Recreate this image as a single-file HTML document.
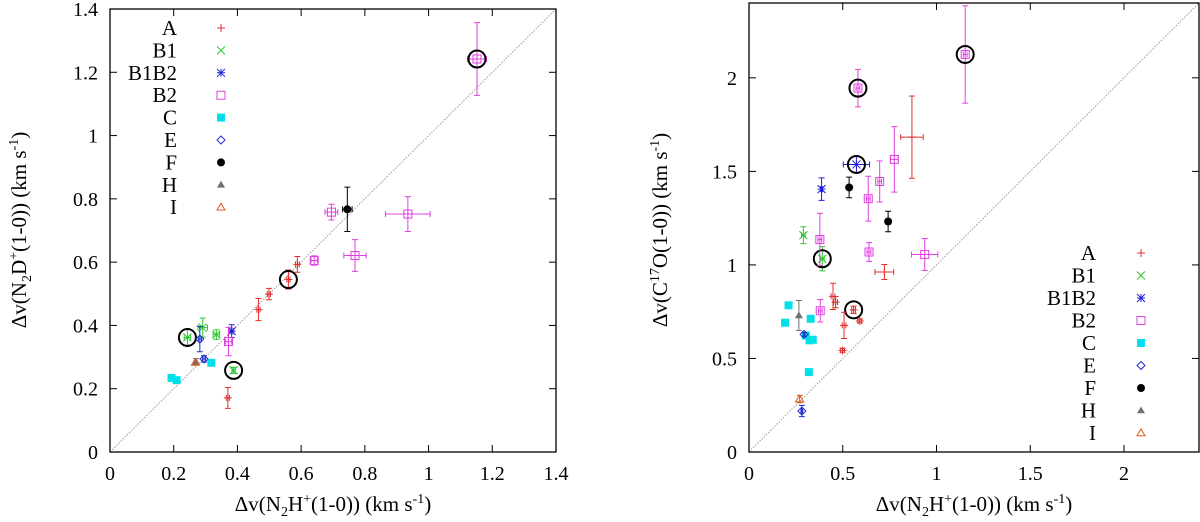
<!DOCTYPE html>
<html><head><meta charset="utf-8"><style>
body{margin:0;background:#fff;width:1200px;height:522px;overflow:hidden}
svg{display:block}
text{font-family:'Liberation Serif','DejaVu Serif',serif}
</style></head><body>
<svg id="chart" width="1200" height="522" viewBox="0 0 1200 522" font-family="'Liberation Serif','DejaVu Serif',serif"></svg>
<script>
// Left panel data: [x, y, xerr, yerr, circled]
const leftA=[[0.466,0.450,0.005,0.035,0],[0.499,0.499,0.005,0.018,0],[0.560,0.545,0.005,0.03,1],[0.588,0.593,0.006,0.025,0],[0.370,0.171,0.005,0.033,0]];
const leftB1=[[0.243,0.362,0.01,0.025,1],[0.291,0.393,0.015,0.03,0],[0.334,0.371,0.01,0.015,0],[0.388,0.258,0.005,0.01,1]];
const leftB1B2=[[0.382,0.382,0.005,0.02,0]];
const leftB2=[[1.152,1.242,0.03,0.115,1],[0.695,0.758,0.02,0.025,0],[0.935,0.752,0.07,0.055,0],[0.769,0.621,0.035,0.05,0],[0.641,0.605,0.01,0.015,0],[0.372,0.349,0.01,0.045,0]];
const leftC=[[0.193,0.234,0,0,0],[0.209,0.227,0,0,0],[0.318,0.282,0,0,0]];
const leftE=[[0.282,0.357,0.005,0.04,0],[0.295,0.294,0.005,0.01,0]];
const leftF=[[0.745,0.767,0.015,0.07,0]];
const leftH=[[0.270,0.285,0,0.01,0]];
const leftI=[[0.268,0.283,0,0,0]];
// Right panel data
const rightA=[[0.869,1.683,0.06,0.22,0],[0.722,0.962,0.05,0.04,0],[0.448,0.832,0.01,0.07,0],[0.462,0.801,0.01,0.03,0],[0.558,0.760,0.01,0.02,1],[0.507,0.677,0.01,0.07,0],[0.591,0.700,0.01,0.01,0],[0.499,0.543,0.01,0.01,0]];
const rightB1=[[0.290,1.159,0.01,0.045,0],[0.391,1.033,0.01,0.065,1]];
const rightB1B2=[[0.387,1.405,0.005,0.06,0],[0.573,1.537,0.07,0.045,1]];
const rightB2=[[1.153,2.125,0.01,0.26,1],[0.581,1.945,0.01,0.1,1],[0.775,1.564,0.02,0.175,0],[0.697,1.446,0.01,0.11,0],[0.636,1.354,0.01,0.12,0],[0.378,1.136,0.01,0.14,0],[0.640,1.069,0.01,0.05,0],[0.937,1.056,0.07,0.085,0],[0.380,0.755,0.01,0.06,0]];
const rightC=[[0.211,0.784,0,0,0],[0.192,0.691,0,0,0],[0.329,0.712,0,0,0],[0.303,0.623,0,0,0],[0.323,0.597,0,0,0],[0.340,0.600,0,0,0],[0.319,0.427,0,0,0]];
const rightE=[[0.294,0.629,0.005,0.01,0],[0.282,0.219,0.005,0.03,0]];
const rightF=[[0.534,1.414,0.005,0.055,0],[0.742,1.232,0.005,0.055,0]];
const rightH=[[0.266,0.730,0,0.08,0]];
const rightI=[[0.270,0.283,0,0.02,0]];
const legendNames=["A","B1","B1B2","B2","C","E","F","H","I"];
const leftTicksX=[0,0.2,0.4,0.6,0.8,1,1.2,1.4];
const leftTicksY=[0,0.2,0.4,0.6,0.8,1,1.2,1.4];
const rightTicksX=[0,0.5,1,1.5,2];
const rightTicksY=[0,0.5,1,1.5,2];

const FONT="'Liberation Serif','DejaVu Serif',serif";
const colors={A:"#e03030",B1:"#30c830",B1B2:"#2020e0",B2:"#e040e0",C:"#00e0e8",E:"#2030d0",F:"#000",H:"#707070",I:"#e05818"};
const svg=document.getElementById('chart');
const NS="http://www.w3.org/2000/svg";
function mk(tag,at,parent){const e=document.createElementNS(NS,tag);for(const k in at)e.setAttribute(k,at[k]);(parent||svg).appendChild(e);return e;}

function symbol(g,kind,cx,cy){
  const c=colors[kind],s=4;
  if(kind==="A"){mk('path',{d:`M${cx-s} ${cy}H${cx+s}M${cx} ${cy-s}V${cy+s}`,stroke:c,'stroke-width':1},g);}
  else if(kind==="B1"){mk('path',{d:`M${cx-s} ${cy-s}L${cx+s} ${cy+s}M${cx-s} ${cy+s}L${cx+s} ${cy-s}`,stroke:c,'stroke-width':1},g);}
  else if(kind==="B1B2"){mk('path',{d:`M${cx-s} ${cy-s}L${cx+s} ${cy+s}M${cx-s} ${cy+s}L${cx+s} ${cy-s}M${cx-s} ${cy}H${cx+s}M${cx} ${cy-s}V${cy+s}`,stroke:c,'stroke-width':1},g);}
  else if(kind==="B2"){mk('rect',{x:cx-s,y:cy-s,width:2*s,height:2*s,fill:'none',stroke:c,'stroke-width':1},g);}
  else if(kind==="C"){mk('rect',{x:cx-s,y:cy-s,width:2*s,height:2*s,fill:c},g);}
  else if(kind==="E"){mk('path',{d:`M${cx} ${cy-s}L${cx+s} ${cy}L${cx} ${cy+s}L${cx-s} ${cy}Z`,fill:'none',stroke:c,'stroke-width':1},g);}
  else if(kind==="F"){mk('circle',{cx:cx,cy:cy,r:s,fill:c},g);}
  else if(kind==="H"){mk('path',{d:`M${cx} ${cy-s}L${cx+s} ${cy+s*0.7}L${cx-s} ${cy+s*0.7}Z`,fill:c},g);}
  else if(kind==="I"){mk('path',{d:`M${cx} ${cy-s}L${cx+s} ${cy+s*0.7}L${cx-s} ${cy+s*0.7}Z`,fill:'none',stroke:c,'stroke-width':1},g);}
}

function panel(p){
  const sx=v=>p.x0+(v-0)/(p.xmax)*(p.x1-p.x0);
  const sy=v=>p.y0-(v)/(p.ymax)*(p.y0-p.y1);
  const g=mk('g',{});  
  const m=Math.min(p.xmax,p.ymax);
  const d=mk('line',{x1:sx(0),y1:sy(0),x2:sx(m),y2:sy(m),stroke:'#999','stroke-width':1,'stroke-dasharray':'1.5,1.5'},g);
   
  p.tx.forEach(t=>{
    mk('line',{x1:sx(t),y1:p.y0,x2:sx(t),y2:p.y0-7,stroke:'#000'},g);
    mk('line',{x1:sx(t),y1:p.y1,x2:sx(t),y2:p.y1+7,stroke:'#000'},g);
    const tl=mk('text',{x:sx(t),y:p.y0+28,'font-size':20,'text-anchor':'middle','font-family':FONT},g); tl.textContent=t;
     
  });
  p.ty.forEach(t=>{
    mk('line',{x1:p.x0,y1:sy(t),x2:p.x0+7,y2:sy(t),stroke:'#000'},g);
    mk('line',{x1:p.x1,y1:sy(t),x2:p.x1-7,y2:sy(t),stroke:'#000'},g);
    const tl=mk('text',{x:p.x0-12,y:sy(t)+7,'font-size':20,'text-anchor':'end','font-family':FONT},g); tl.textContent=t;
     
  });
  const fr=mk('rect',{x:p.x0,y:p.y1,width:p.x1-p.x0,height:p.y0-p.y1,fill:'none',stroke:'#000','stroke-width':1.3},g);
   
  p.series.forEach(([kind,arr])=>{
    arr.forEach(pt=>{
      const [x,y,xe,ye,circ]=pt; const cx=sx(x),cy=sy(y); const c=colors[kind];
      const pg=mk('g',{},g);
      
      
      if(ye>0){const a=sy(y+ye),b=sy(y-ye);mk('path',{d:`M${cx} ${a}V${b}M${cx-3} ${a}H${cx+3}M${cx-3} ${b}H${cx+3}`,stroke:c,'stroke-width':1},pg);}
      if(xe>0){const a=sx(x-xe),b=sx(x+xe);mk('path',{d:`M${a} ${cy}H${b}M${a} ${cy-3}V${cy+3}M${b} ${cy-3}V${cy+3}`,stroke:c,'stroke-width':1},pg);}
      symbol(pg,kind,cx,cy);
      if(circ) mk('ellipse',{cx:cx,cy:cy,rx:8.5,ry:8.5,fill:'none',stroke:'#000','stroke-width':2},pg);
    });
  });
  legendNames.forEach((n,i)=>{
    const y=p.ly+i*p.lstep;
    const lg=mk('g',{},g);  
    const t=mk('text',{x:p.lx,y:y+7,'font-size':21,'text-anchor':'end','font-family':FONT},lg); t.textContent=n;
    symbol(lg,n,p.lsx,y);
  });
}
panel({name:'left-panel',x0:110,x1:556,y0:452,y1:9,xmax:1.4,ymax:1.4,tx:leftTicksX,ty:leftTicksY,lx:177,lsx:221,ly:28,lstep:22.4,
  series:[["A",leftA],["B1",leftB1],["B1B2",leftB1B2],["B2",leftB2],["C",leftC],["E",leftE],["F",leftF],["H",leftH],["I",leftI]]});
panel({name:'right-panel',x0:749,x1:1199,y0:452,y1:3,xmax:2.4,ymax:2.4,tx:rightTicksX,ty:rightTicksY,lx:1096,lsx:1141,ly:253,lstep:22.5,
  series:[["A",rightA],["B1",rightB1],["B1B2",rightB1B2],["B2",rightB2],["C",rightC],["E",rightE],["F",rightF],["H",rightH],["I",rightI]]});
</script>
<svg style="position:absolute;left:0;top:0" width="1200" height="522" font-family="'Liberation Serif','DejaVu Serif',serif">
  <text x="333" y="511" font-size="21" text-anchor="middle">Δv(N<tspan font-size="14" dy="5">2</tspan><tspan dy="-5">H</tspan><tspan font-size="14" dy="-8">+</tspan><tspan dy="8">(1-0)) (km s</tspan><tspan font-size="14" dy="-8">-1</tspan><tspan dy="8">)</tspan></text>
  <text transform="translate(26,230) rotate(-90)" font-size="21" text-anchor="middle">Δv(N<tspan font-size="14" dy="5">2</tspan><tspan dy="-5">D</tspan><tspan font-size="14" dy="-8">+</tspan><tspan dy="8">(1-0)) (km s</tspan><tspan font-size="14" dy="-8">-1</tspan><tspan dy="8">)</tspan></text>
  <text x="974" y="511" font-size="21" text-anchor="middle">Δv(N<tspan font-size="14" dy="5">2</tspan><tspan dy="-5">H</tspan><tspan font-size="14" dy="-8">+</tspan><tspan dy="8">(1-0)) (km s</tspan><tspan font-size="14" dy="-8">-1</tspan><tspan dy="8">)</tspan></text>
  <text transform="translate(667,230) rotate(-90)" font-size="21" text-anchor="middle">Δv(C<tspan font-size="14" dy="-8">17</tspan><tspan dy="8">O(1-0)) (km s</tspan><tspan font-size="14" dy="-8">-1</tspan><tspan dy="8">)</tspan></text>
</svg>
</body></html>
